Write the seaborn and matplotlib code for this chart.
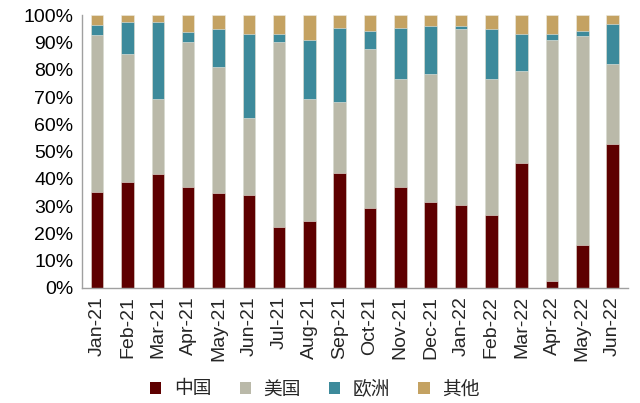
import numpy as np
import pandas as pd
import matplotlib
matplotlib.use("Agg")
import matplotlib.pyplot as plt
import seaborn as sns
from matplotlib.patches import Patch
from matplotlib.ticker import FixedLocator, PercentFormatter

months = ["Jan-21", "Feb-21", "Mar-21", "Apr-21", "May-21", "Jun-21", "Jul-21", "Aug-21",
          "Sep-21", "Oct-21", "Nov-21", "Dec-21", "Jan-22", "Feb-22", "Mar-22", "Apr-22",
          "May-22", "Jun-22"]
china = [35.3, 38.9, 41.8, 37.0, 34.9, 34.0, 22.2, 24.6, 42.0, 29.2, 36.9, 31.4, 30.5, 26.7, 45.9, 2.3, 15.6, 52.8]
usa = [57.5, 46.8, 27.4, 53.3, 46.2, 28.2, 68.0, 44.7, 26.1, 58.6, 39.7, 47.0, 64.3, 49.9, 33.8, 88.8, 76.9, 29.5]
europe = [3.7, 11.8, 28.3, 3.7, 13.9, 31.1, 3.0, 21.8, 27.4, 6.4, 18.9, 17.5, 1.2, 18.4, 13.5, 2.2, 1.7, 14.5]
other = [3.5, 2.5, 2.5, 6.0, 5.0, 6.7, 6.8, 8.9, 4.5, 5.8, 4.5, 4.1, 4.0, 5.0, 6.8, 6.7, 5.8, 3.2]
series_names = ["中国", "美国", "欧洲", "其他"]
colors = ["#5E0000", "#BAB9A9", "#3D8A9B", "#C4A262"]

sns.set_theme(style="white")
plt.rcParams["font.family"] = ["Liberation Sans", "Noto Sans CJK SC", "DejaVu Sans"]

df = pd.DataFrame({"month": months, "中国": china, "美国": usa, "欧洲": europe, "其他": other})
cum = df[series_names].cumsum(axis=1)

fig = plt.figure(figsize=(6.4, 4.03), dpi=100)
ax = fig.add_axes([0.128, 0.286, 0.853, 0.676])

for name, col in reversed(list(zip(series_names, colors))):
    sns.barplot(x=df["month"], y=cum[name], color=col, width=0.41, ax=ax,
                edgecolor="#EDEBE3", linewidth=0.4, saturation=1, order=months)

ax.set_ylim(0, 100)
ax.set_xlim(-0.5, len(months) - 0.5)
ax.yaxis.set_major_locator(FixedLocator(np.arange(0, 101, 10)))
ax.yaxis.set_major_formatter(PercentFormatter(decimals=0))
ax.set_xlabel("")
ax.set_ylabel("")

for s in ["top", "right"]:
    ax.spines[s].set_visible(False)
for s in ["left", "bottom"]:
    ax.spines[s].set_color("#A0A0A0")
    ax.spines[s].set_linewidth(1.0)

ax.tick_params(axis="y", labelsize=14, length=0, pad=6, colors="black")
ax.tick_params(axis="x", which="major", labelsize=14, length=0, rotation=90, pad=6)
ax.set_xticks(np.arange(-0.5, len(months), 1.0), minor=True)
ax.tick_params(axis="x", which="minor", length=5, color="#A0A0A0", width=1.0, direction="out")

handles = [Patch(facecolor=c, edgecolor="none", label=n) for n, c in zip(series_names, colors)]
fig.legend(handles=handles, loc="center", bbox_to_anchor=(0.492, 0.035), ncol=4,
           frameon=False, handlelength=0.6, handleheight=0.6,
           handletextpad=0.67, columnspacing=1.5, borderpad=0.2,
           prop={"family": ["Noto Sans CJK SC", "DejaVu Sans"], "size": 13.5})

fig.savefig("out.png", dpi=100)
